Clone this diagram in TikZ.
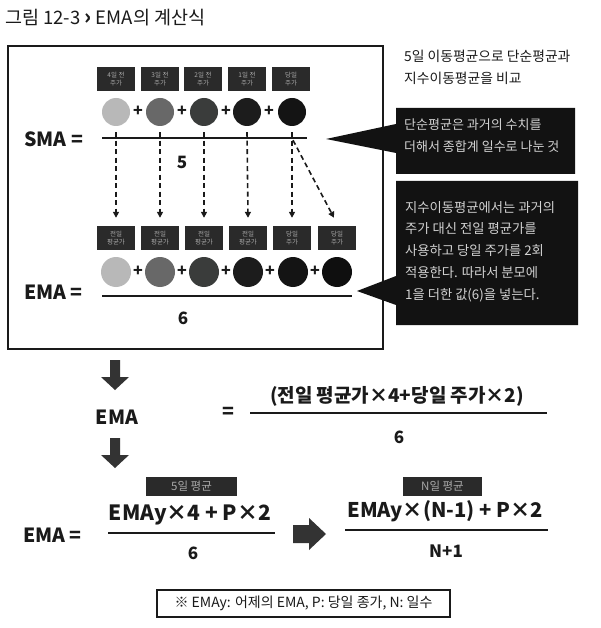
\documentclass[tikz,border=0pt]{standalone}
\usepackage{fontspec}
\setmainfont{Noto Sans CJK KR}
\usetikzlibrary{arrows.meta}
\definecolor{tagbg}{HTML}{2A2A2A}
\definecolor{tagtx}{HTML}{A8A8A8}
\definecolor{cbg}{HTML}{121212}
\definecolor{ctx}{HTML}{D2D2D2}
\definecolor{arrg}{HTML}{333333}
\definecolor{ink}{HTML}{1A1A1A}
\definecolor{cA}{HTML}{B8B8B8}
\definecolor{cB}{HTML}{686868}
\definecolor{cC}{HTML}{3A3C3B}
\definecolor{cD}{HTML}{1C1C1C}
\definecolor{cE}{HTML}{141414}
\definecolor{cF}{HTML}{0F0F0F}
\begin{document}
\begin{tikzpicture}[x=1pt,y=-1pt,
  tagbox/.style={fill=tagbg,text=tagtx,font=\fontsize{6.5}{7.4}\selectfont,minimum width=38pt,minimum height=24pt,inner sep=0pt,align=center},
  coin/.style={circle,inner sep=0pt,minimum size=#1},
  plussign/.style={font=\bfseries\fontsize{16}{16}\selectfont,text=ink,inner sep=0pt},
  bigtxt/.style={font=\bfseries\fontsize{19.5}{19.5}\selectfont,text=ink,inner sep=0pt},
  midtxt/.style={font=\bfseries\fontsize{17}{17}\selectfont,text=ink,inner sep=0pt},
  fracline/.style={line width=2.4pt,draw=ink},
  dasharr/.style={line width=1.6pt,draw=ink,dash pattern=on 5pt off 3.5pt,-{Triangle[width=6pt,length=6pt]}},
  calltxt/.style={text=ctx,font=\fontsize{13}{21.8}\selectfont,align=left,inner sep=0pt},
  avgbox/.style={fill=tagbg,text=tagtx,font=\fontsize{11.5}{11.5}\selectfont,inner sep=0pt,minimum height=19pt},
  blockarr/.style={fill=arrg}
]
\useasboundingbox (0,0) rectangle (600,628);
\fill[white] (0,0) rectangle (600,628);

% title
\node[anchor=west,inner sep=0pt,text=ink,font=\fontsize{18.5}{19}\selectfont] (title) at (5,18) {그림 12-3 \textbf{\fontsize{21}{21}\selectfont ›} EMA의 계산식};

% main frame
\draw[line width=2.6pt,draw=ink] (8,46) rectangle (383,349);

% description top right
\node[anchor=north west,inner sep=0pt,text=ink,font=\fontsize{13.8}{22}\selectfont,align=left] (desc) at (404,50) {5일 이동평균으로 단순평균과\\지수이동평균을 비교};

% callouts
\fill[cbg] (396,108) -- (575,108) -- (575,174) -- (396,174) -- (396,153) -- (326,139) -- (396,124) -- cycle;
\node[calltxt,anchor=north west] (call1) at (404,119) {단순평균은 과거의 수치를\\더해서 종합계 일수로 나눈 것};
\fill[cbg] (396,181) -- (578,181) -- (578,325) -- (396,325) -- (396,305) -- (357,291) -- (396,276) -- cycle;
\node[calltxt,anchor=north west,font=\fontsize{13.3}{21.7}\selectfont] (call2) at (405,201) {지수이동평균에서는 과거의\\주가 대신 전일 평균가를\\사용하고 당일 주가를 2회\\적용한다. 따라서 분모에\\1을 더한 값(6)을 넣는다.};

% SMA row
\node[tagbox] (t1) at (116,79) {4일 전\\주가};
\node[tagbox] (t2) at (160,79) {3일 전\\주가};
\node[tagbox] (t3) at (203,79) {2일 전\\주가};
\node[tagbox] (t4) at (247,79) {1일 전\\주가};
\node[tagbox] (t5) at (291,79) {당일\\주가};
\node[coin=28pt,fill=cA] (s1) at (116,112) {};
\node[coin=28pt,fill=cB] (s2) at (160,112) {};
\node[coin=28pt,fill=cC] (s3) at (204,112) {};
\node[coin=28pt,fill=cD] (s4) at (247,112) {};
\node[coin=28pt,fill=cE] (s5) at (292,112) {};
\node[plussign] (sp1) at (138,111) {+};
\node[plussign] (sp2) at (182,111) {+};
\node[plussign] (sp3) at (226,111) {+};
\node[plussign] (sp4) at (269,111) {+};
\node[bigtxt,anchor=west] (smaeq) at (24,139) {SMA =};
\draw[fracline] (102,138) -- (307,138);
\node[midtxt] (sfive) at (182,162) {5};

% EMA row
\node[tagbox] (e1) at (116,238) {전일\\평균가};
\node[tagbox] (e2) at (160,238) {전일\\평균가};
\node[tagbox] (e3) at (204,238) {전일\\평균가};
\node[tagbox] (e4) at (248,238) {전일\\평균가};
\node[tagbox] (e5) at (292,238) {당일\\주가};
\node[tagbox] (e6) at (337,238) {당일\\주가};
\node[coin=30pt,fill=cA] (m1) at (116,272) {};
\node[coin=30pt,fill=cB] (m2) at (160,272) {};
\node[coin=30pt,fill=cC] (m3) at (204,272) {};
\node[coin=30pt,fill=cD] (m4) at (248,272) {};
\node[coin=30pt,fill=cE] (m5) at (293,272) {};
\node[coin=30pt,fill=cF] (m6) at (337,272) {};
\node[plussign] (mp1) at (138,271) {+};
\node[plussign] (mp2) at (182,271) {+};
\node[plussign] (mp3) at (226,271) {+};
\node[plussign] (mp4) at (270,271) {+};
\node[plussign] (mp5) at (315,271) {+};
\node[bigtxt,anchor=west] (emaeq) at (24,292) {EMA =};
\draw[fracline] (102,296) -- (352,296);
\node[midtxt] (esix) at (183,318) {6};

% dashed arrows
\draw[dasharr] ([yshift=-6pt]s1.south) -- ([yshift=8pt]e1.north);
\draw[dasharr] ([yshift=-6pt]s2.south) -- ([yshift=8pt]e2.north);
\draw[dasharr] ([yshift=-6pt]s3.south) -- ([yshift=8pt]e3.north);
\draw[dasharr] ([yshift=-6pt]s4.south) -- ([yshift=8pt]e4.north);
\draw[dasharr] ([yshift=-6pt]s5.south) -- ([yshift=8pt]e5.north);
\draw[dasharr] ([xshift=1pt,yshift=-14pt]s5.south) -- ([xshift=-3pt,yshift=8pt]e6.north);

% down arrows
\fill[blockarr] (110,360) -- (120,360) -- (120,377) -- (129,377) -- (115,390) -- (101,377) -- (110,377) -- cycle;
\fill[blockarr] (110,438) -- (120,438) -- (120,455) -- (129,455) -- (115,468) -- (101,455) -- (110,455) -- cycle;

% row 3
\node[bigtxt] (ema3) at (117,417) {EMA};
\node[bigtxt] (eq3) at (228,413) {=};
\node[midtxt,font=\bfseries\fontsize{19}{19}\selectfont] (num3) at (397,396) {(전일 평균가×4+당일 주가×2)};
\draw[fracline] (250,413) -- (547,413);
\node[midtxt] (den3) at (399,437) {6};

% bottom formulas
\node[bigtxt,anchor=west] (ema4) at (23,535) {EMA =};
\node[avgbox,minimum width=91pt] (avg5) at (191.5,486) {5일 평균};
\node[bigtxt,font=\bfseries\fontsize{21}{21}\selectfont] (num4) at (190,515) {EMAy×4 + P×2};
\draw[fracline] (108,533) -- (275,533);
\node[midtxt] (den4) at (193,553) {6};
\fill[blockarr] (293,525) -- (309,525) -- (309,518) -- (326,534) -- (309,550) -- (309,543) -- (293,543) -- cycle;
\node[avgbox,minimum width=79pt] (avgn) at (442.5,486) {N일 평균};
\node[bigtxt,font=\bfseries\fontsize{20.2}{20.2}\selectfont] (num5) at (445,511) {EMAy×(N-1) + P×2};
\draw[fracline] (345,530) -- (548,530);
\node[midtxt] (den5) at (446,551) {N+1};

% note
\node[draw=ink,line width=1.2pt,minimum width=293pt,minimum height=27pt,inner sep=0pt,text=ink,font=\fontsize{14}{14}\selectfont] (note) at (303.5,603.5) {※ EMAy: 어제의 EMA, P: 당일 종가, N: 일수};
\end{tikzpicture}
\end{document}
